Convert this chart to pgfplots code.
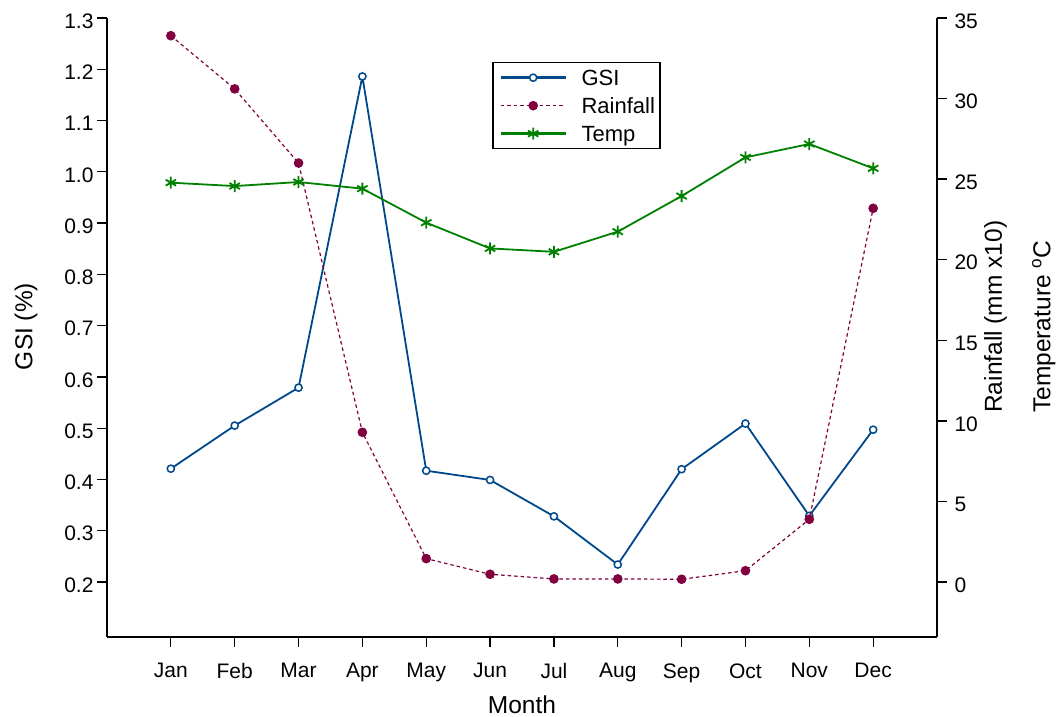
\documentclass[border=0pt]{standalone}
\usepackage{fontspec}
\setmainfont{Liberation Sans}
\usepackage{pgfplots}
\pgfplotsset{compat=1.18}
\usetikzlibrary{calc}
\definecolor{gsiblue}{RGB}{0,72,140}
\definecolor{rainred}{RGB}{128,0,64}
\definecolor{tempgreen}{RGB}{0,128,0}
\newcommand{\lblfont}{\fontsize{24.5}{28}\selectfont}
\newcommand{\lstrut}{\rule[-5pt]{0pt}{21.5pt}}
\pgfplotsset{
  base/.style={
    width=830pt, height=619pt, scale only axis,
    xmin=0, xmax=13,
    /pgf/number format/assume math mode=true,
    tick align=outside,
    major tick length=10pt,
    tick style={black, line width=1.3pt},
    every tick label/.append style={font=\fontsize{21}{25}\selectfont},
  },
  gsistyle/.style={color=gsiblue, line width=1.8pt, mark=*, mark size=3.6pt,
    mark options={fill=white, line width=1.5pt, solid}},
  rainstyle/.style={color=rainred, line width=1.2pt, dash pattern=on 3.5pt off 3pt,
    mark=*, mark size=4.2pt, mark options={fill=rainred, solid}},
  tempstyle/.style={color=tempgreen, line width=1.8pt, mark=asterisk, mark size=6pt,
    mark options={line width=1.8pt, solid}},
  legthick/.style={legend image code/.code={
    \path (0pt,0pt) (82pt,0pt);
    \draw[mark repeat=2,mark phase=2,line width=3.2pt] plot coordinates {(5pt,0pt) (37.5pt,0pt) (70pt,0pt)};}},
  legthin/.style={legend image code/.code={
    \path (0pt,0pt) (82pt,0pt);
    \draw[mark repeat=2,mark phase=2] plot coordinates {(5pt,0pt) (37.5pt,0pt) (70pt,0pt)};}},
}
\begin{document}
\begin{tikzpicture}[font=\fontsize{21}{25}\selectfont]
\begin{axis}[base,
  axis x line*=bottom, axis y line*=left,
  x axis line style={line width=2.6pt},
  y axis line style={line width=1.8pt},
  ymin=0.0927, ymax=1.3,
  ytick={0.2,0.3,0.4,0.5,0.6,0.7,0.8,0.9,1.0,1.1,1.2,1.3},
  yticklabel style={/pgf/number format/.cd, fixed, fixed zerofill, precision=1, /tikz/.cd, yshift=-3pt},
  xtick={1,2,3,4,5,6,7,8,9,10,11,12},
  xticklabels={Jan,Feb,Mar,Apr,May,Jun,Jul,Aug,Sep,Oct,Nov,Dec},
  xticklabel style={yshift=-13pt},
  xlabel={Month},
  xlabel style={at={(axis description cs:0.5,-0.1228)}, anchor=base, font=\lblfont, inner sep=0pt},
  ylabel={GSI (\%)},
  ylabel style={at={(axis description cs:-0.0898,0.431)}, anchor=base west, rotate=0, font=\lblfont, inner sep=0pt},
]
\coordinate (sw) at (rel axis cs:0,0);
\coordinate (ne) at (rel axis cs:1,1);
\addplot[gsistyle] coordinates {
 (1,0.421) (2,0.505) (3,0.579) (4,1.186) (5,0.417) (6,0.399)
 (7,0.328) (8,0.234) (9,0.420) (10,0.509) (11,0.329) (12,0.497)};
\end{axis}
\begin{axis}[base,
  clip=false,
  axis y line*=right, axis x line=none,
  y axis line style={line width=1.8pt},
  ymin=-3.413, ymax=35,
  ytick={0,5,10,15,20,25,30,35},
  yticklabel style={xshift=4pt, yshift=-3pt},
  legend style={at={(0.4639,0.929)}, anchor=north west,
    draw=black, line width=1.5pt, font=\fontsize{22}{26}\selectfont,
    inner xsep=2pt, inner ysep=3pt, row sep=4pt,
    nodes={inner sep=3pt, anchor=west}},
  legend cell align=left,
]
\addlegendimage{gsistyle, legthick}
\addlegendentry{\lstrut GSI}
\addplot[rainstyle, legthin]
 coordinates {
 (1,33.9) (2,30.6) (3,26.0) (4,9.29) (5,1.45) (6,0.48)
 (7,0.19) (8,0.19) (9,0.17) (10,0.70) (11,3.89) (12,23.19)};
\addlegendentry{\lstrut Rainfall}
\addplot[tempstyle, legthick]
 coordinates {
 (1,24.78) (2,24.57) (3,24.82) (4,24.41) (5,22.30) (6,20.70)
 (7,20.49) (8,21.74) (9,23.95) (10,26.35) (11,27.18) (12,25.67)};
\addlegendentry{\lstrut Temp}
\node[rotate=90, anchor=base west, font=\lblfont, inner sep=0pt] at (axis description cs:1.0783,0.362) {Rainfall (mm x10)};
\node[rotate=90, anchor=base west, font=\lblfont, inner sep=0pt] at (axis description cs:1.1367,0.362) {Temperature $^{\mathrm{o}}$C};
\end{axis}
\pgfresetboundingbox
\path[use as bounding box] ($(sw)+(-107pt,-80pt)$) rectangle ($(ne)+(121pt,18pt)$);
\end{tikzpicture}
\end{document}
